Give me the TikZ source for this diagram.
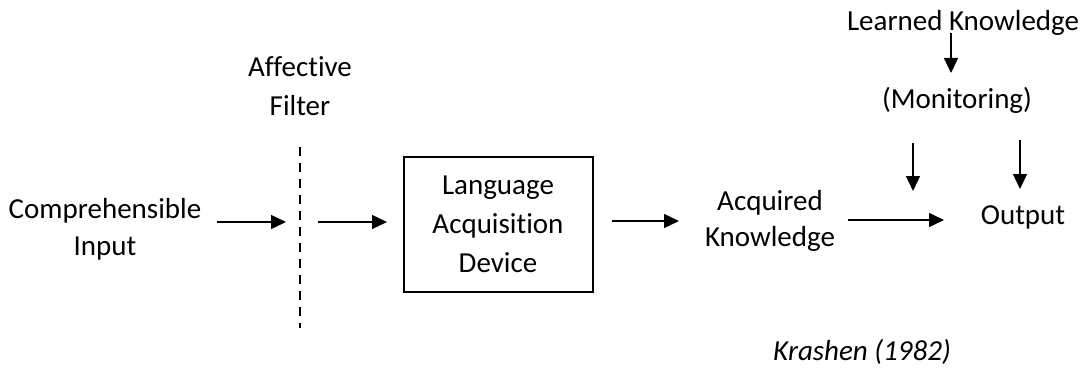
\documentclass[tikz,border=0pt]{standalone}
\usepackage{fontspec}
\setmainfont{Carlito}[Ligatures=NoCommon]
\usetikzlibrary{arrows.meta}
\begin{document}
\begin{tikzpicture}[x=1pt,y=-1pt,
  lbl/.style={anchor=base,inner sep=0pt,font=\fontsize{29}{37}\selectfont},
  flow/.style={line width=1.4pt,-{Triangle[length=15pt,width=14pt]}},
  filterline/.style={line width=1.6pt,dash pattern=on 9pt off 7pt}]
\useasboundingbox (0,0) rectangle (1089,369);

% left input
\node[lbl] (ci1) at (105,218) {Comprehensible};
\node[lbl] (ci2) at (105,255) {Input};

% affective filter
\node[lbl] (af1) at (300,77) {Affective};
\node[lbl] (af2) at (300,115) {Filter};
\coordinate (ftop) at (300,147);
\coordinate (fbot) at (300,328);
\draw[filterline] (ftop) -- (fbot);

% acquisition device
\node[draw,line width=1.4pt,inner sep=0pt,minimum width=189pt,minimum height=135pt] (lad) at (498.5,224.5) {};
\node[lbl] (lad1) at (498,194) {Language};
\node[lbl] (lad2) at (498,233) {Acquisition};
\node[lbl] (lad3) at (498,272) {Device};

% acquired knowledge and output
\node[lbl] (ak1) at (770,210) {Acquired};
\node[lbl] (ak2) at (770,246) {Knowledge};
\node[lbl] (out) at (1023,224) {Output};

% monitor
\node[lbl] (lk) at (963,31) {Learned Knowledge};
\node[lbl] (mon) at (957,108) {(Monitoring)};

% source
\node[lbl,font=\fontsize{29}{37}\selectfont\itshape] (kr) at (862,360) {Krashen (1982)};

% arrow end points
\coordinate (a1s) at (217,222); \coordinate (a1e) at (286,222);
\coordinate (a2s) at (318,222); \coordinate (a2e) at (387,222);
\coordinate (a3s) at (612,221); \coordinate (a3e) at (679,221);
\coordinate (a4s) at (848,220); \coordinate (a4e) at (944,220);
\coordinate (a5s) at (951,33);  \coordinate (a5e) at (951,73);
\coordinate (a6s) at (913,143); \coordinate (a6e) at (913,191);
\coordinate (a7s) at (1020,140); \coordinate (a7e) at (1020,189);

\draw[flow] (a1s) -- (a1e);
\draw[flow] (a2s) -- (a2e);
\draw[flow] (a3s) -- (a3e);
\draw[flow] (a4s) -- (a4e);
\draw[flow] (a5s) -- (a5e);
\draw[flow] (a6s) -- (a6e);
\draw[flow] (a7s) -- (a7e);
\end{tikzpicture}
\end{document}
